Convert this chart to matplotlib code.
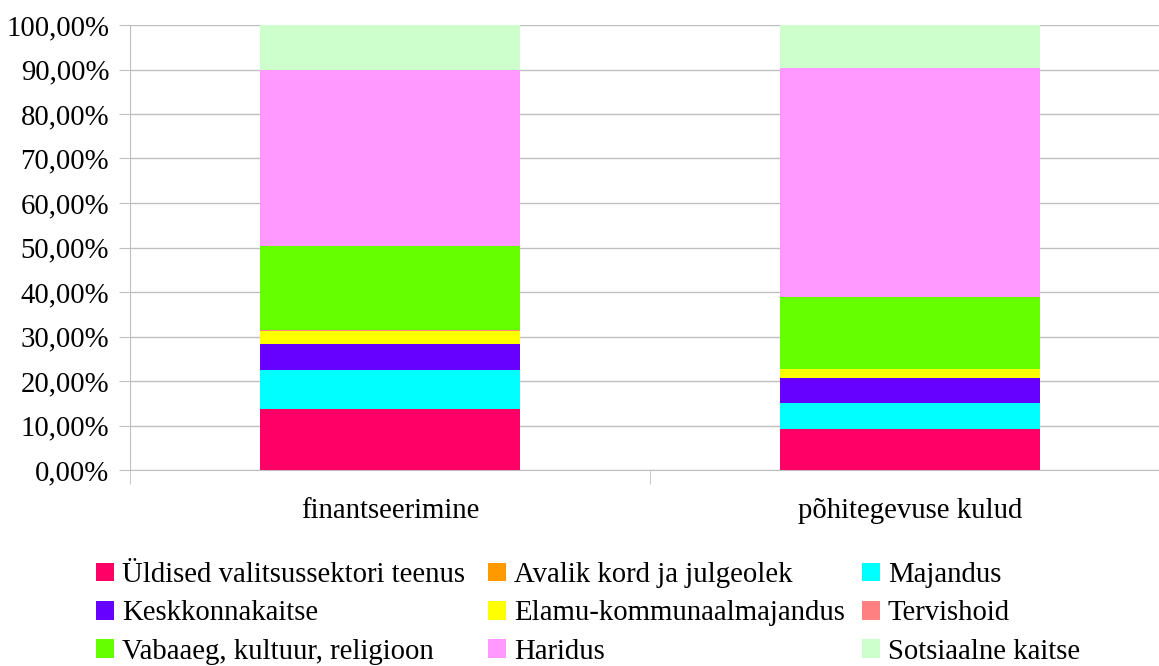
import numpy as np
import matplotlib
matplotlib.use("Agg")
import matplotlib.pyplot as plt
from matplotlib.ticker import FuncFormatter

categories = ["finantseerimine", "põhitegevuse kulud"]
series = [
    "Üldised valitsussektori teenus",
    "Avalik kord ja julgeolek",
    "Majandus",
    "Keskkonnakaitse",
    "Elamu-kommunaalmajandus",
    "Tervishoid",
    "Vabaaeg, kultuur, religioon",
    "Haridus",
    "Sotsiaalne kaitse",
]
# share of total, % (finantseerimine, põhitegevuse kulud)
uldised = [13.6, 9.2]
avalik = [0.2, 0.05]
majandus = [8.7, 5.9]
keskkond = [5.8, 5.6]
elamu = [3.0, 2.0]
tervis = [0.2, 0.05]
vabaaeg = [18.9, 16.0]
haridus = [39.5, 51.6]
sotsiaal = [10.1, 9.6]
values = [uldised, avalik, majandus, keskkond, elamu, tervis, vabaaeg, haridus, sotsiaal]
colors = ["#FF0066", "#FF9900", "#00FFFF", "#6600FF", "#FFFF00",
          "#FF8080", "#66FF00", "#FF99FF", "#CCFFCC"]

plt.rcParams["font.family"] = ["Liberation Serif", "DejaVu Serif"]
FS = 20.7

W, H = 1159, 666
fig = plt.figure(figsize=(W / 100, H / 100), dpi=100)
ax = fig.add_axes([130 / W, 1 - 470 / H, (1170 - 130) / W, (470 - 25) / H])

x = np.arange(len(categories))
bottom = np.zeros(len(categories))
handles = []
for name, vals, c in zip(series, values, colors):
    v = np.array(vals) / 100
    b = ax.bar(x, v, 0.5, bottom=bottom, color=c, label=name, zorder=3)
    handles.append(b)
    bottom += v

ax.set_xlim(-0.5, 1.5)
ax.set_ylim(0, 1)
ax.set_yticks(np.arange(0, 1.01, 0.1))
ax.yaxis.set_major_formatter(FuncFormatter(lambda v, p: f"{v*100:.2f}%".replace(".", ",")))
ax.yaxis.grid(True, color="#BFBFBF", linewidth=1, zorder=0)
ax.set_xticks(x)
ax.set_xticklabels(categories)
ax.set_xticks([-0.5, 0.5, 1.5], minor=True)
ax.tick_params(axis="x", which="major", length=0, pad=20, labelsize=FS)
ax.tick_params(axis="x", which="minor", length=10, color="#BFBFBF")
ax.tick_params(axis="y", length=8, color="#BFBFBF", labelsize=FS, pad=7)
for s in ["top", "right"]:
    ax.spines[s].set_visible(False)
ax.spines["left"].set_color("#BFBFBF")
ax.spines["bottom"].set_color("#BFBFBF")

# legend: three columns placed separately, rows read left to right
col_x = [96, 488, 862]
for j, cx in enumerate(col_x):
    idx = [j, j + 3, j + 6]
    leg = fig.legend([handles[i] for i in idx], [series[i] for i in idx],
                     loc="upper left", bbox_to_anchor=(cx / W, 1 - 562 / H),
                     frameon=False, fontsize=FS, handlelength=0.62, handleheight=0.62,
                     handletextpad=0.28, labelspacing=0.43,
                     borderpad=0, borderaxespad=0)

fig.savefig("out.png", dpi=100)
